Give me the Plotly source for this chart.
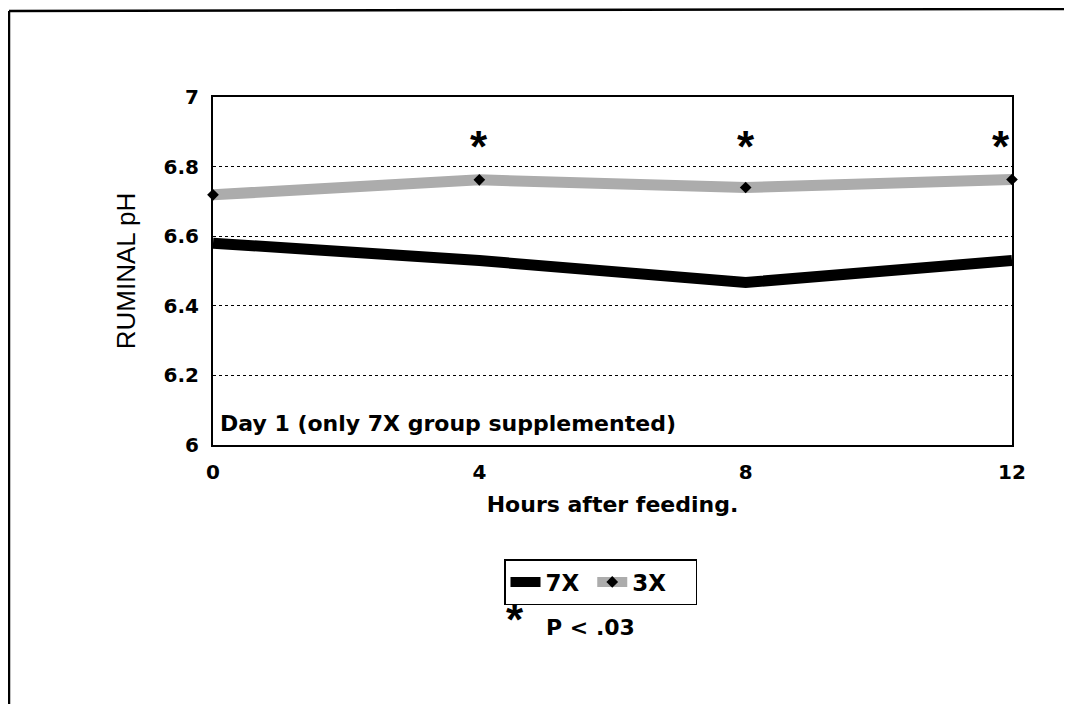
import plotly.graph_objects as go

hours = [0, 4, 8, 12]
ph_7x = [6.58, 6.53, 6.467, 6.53]
ph_3x = [6.719, 6.762, 6.74, 6.763]
sig_hours = [4, 8, 12]
sig_y = [6.875, 6.875, 6.875]
y_ticks = [6, 6.2, 6.4, 6.6, 6.8, 7]
y_tick_text = ["6", "6.2", "6.4", "6.6", "6.8", "7"]
x_ticks = [0, 4, 8, 12]
series_names = ["7X", "3X"]

FONT = "DejaVu Sans"
W, H = 1072, 704
OFF = 8  # page body margin offset
# plot area in screen pixels
X0, X1, Y0, Y1 = 213, 1012, 97, 445
NBSP = "\u00a0"


def px(x):
    return (x - X0) / (X1 - X0)


def py(y):
    return (Y1 - y) / (Y1 - Y0)


fig = go.Figure()
fig.add_trace(go.Scatter(
    x=hours, y=ph_7x, name=series_names[0] + NBSP, mode="lines",
    line=dict(color="black", width=11), cliponaxis=False,
))
fig.add_trace(go.Scatter(
    x=hours, y=ph_3x, name=series_names[1] + NBSP * 3, mode="lines+markers",
    line=dict(color="#acacac", width=11),
    marker=dict(symbol="diamond", size=9, color="black"),
    cliponaxis=False,
))
for h, s in zip(sig_hours, sig_y):
    fig.add_annotation(x=h, y=s, text="*", showarrow=False,
                       font=dict(family="Liberation Sans", size=44, color="black", weight="bold"),
                       yshift=-6, xshift=(-11 if h == max(hours) else 0))

fig.add_annotation(xref="paper", yref="paper", x=px(218), y=py(423), xanchor="left", yanchor="middle",
                   text="Day 1 (only 7X group supplemented)", showarrow=False,
                   font=dict(family=FONT, size=22, color="black", weight="bold"))

fig.add_annotation(xref="paper", yref="paper", x=px(515), y=py(619), xanchor="center", yanchor="middle",
                   text="*", showarrow=False,
                   font=dict(family="Liberation Sans", size=44, color="black", weight="bold"))
fig.add_annotation(xref="paper", yref="paper", x=px(544), y=py(627), xanchor="left", yanchor="middle",
                   text="P &lt; .03", showarrow=False,
                   font=dict(family=FONT, size=22, color="black", weight="bold"))

# outer frame (top and left edges)
fig.add_shape(type="line", xref="paper", yref="paper", x0=px(9), y0=py(11), x1=px(1080), y1=py(9),
              line=dict(color="black", width=2.5))
fig.add_shape(type="line", xref="paper", yref="paper", x0=px(9), y0=py(11), x1=px(9), y1=py(712),
              line=dict(color="black", width=2.5))

fig.update_layout(
    width=W, height=H,
    margin=dict(l=X0 - OFF, r=W + OFF - X1, t=Y0 - OFF, b=H + OFF - Y1),
    paper_bgcolor="white", plot_bgcolor="white",
    font=dict(family=FONT, color="black"),
    showlegend=True,
    legend=dict(
        orientation="h", x=px(504), y=py(559), xanchor="left", yanchor="top",
        bordercolor="black", borderwidth=1.5, bgcolor="white",
        font=dict(family=FONT, size=23, color="black", weight="bold"),
        itemwidth=30, tracegroupgap=0,
    ),
    xaxis=dict(
        range=[0, 12], tickvals=x_ticks, ticks="", showgrid=False,
        showline=True, linecolor="black", linewidth=2, mirror=True,
        tickfont=dict(family=FONT, size=20, color="black", weight="bold"),
        ticklabelstandoff=8,
        title=dict(text="Hours after feeding.", standoff=14,
                   font=dict(family=FONT, size=22, color="black", weight="bold")),
        zeroline=False,
    ),
    yaxis=dict(
        range=[6, 7], tickvals=y_ticks, ticktext=y_tick_text, ticks="",
        showgrid=True, gridcolor="black", griddash="dot", gridwidth=1,
        showline=True, linecolor="black", linewidth=2, mirror=True,
        tickfont=dict(family=FONT, size=20, color="black", weight="bold"),
        ticklabelstandoff=8,
        title=dict(text="RUMINAL pH", standoff=20,
                   font=dict(family="Liberation Sans", size=26, color="black")),
        zeroline=False,
    ),
)

fig.write_html("out.html")
